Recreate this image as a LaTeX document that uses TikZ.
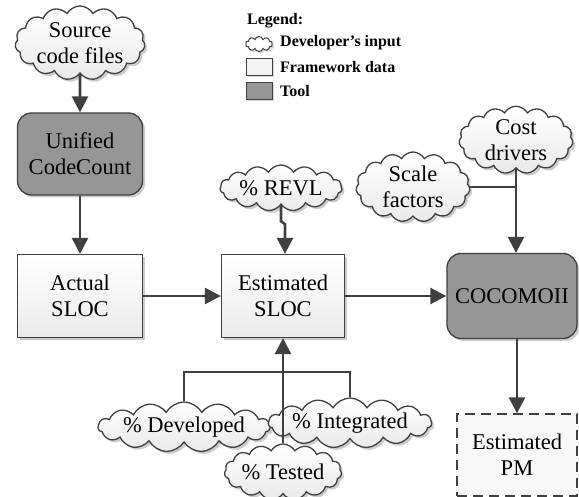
\documentclass[tikz,border=0pt]{standalone}
\usepackage{fontspec}
\setmainfont{Liberation Serif}
\usetikzlibrary{shapes.symbols,shadows,arrows.meta}
\definecolor{edge}{RGB}{64,64,64}
\definecolor{toolfill}{RGB}{150,150,150}
\definecolor{datafill}{RGB}{244,244,244}
\definecolor{cloudfill}{RGB}{246,246,246}
\tikzset{
  base/.style={draw=edge, line width=1.3pt, align=center, font=\rmfamily\fontsize{22.5}{26}\selectfont, inner sep=0pt,
    drop shadow={shadow xshift=2.5pt, shadow yshift=-2.5pt, fill=black, opacity=0.2}},
  cloudbox/.style={base, cloud, cloud puffs=15, cloud puff arc=120, cloud ignores aspect, top color=white, bottom color=cloudfill!90!gray},
  databox/.style={base, rectangle, top color=white, bottom color=datafill!92!gray},
  toolbox/.style={base, rectangle, rounded corners=14pt, fill=toolfill},
  pmbox/.style={draw=edge, line width=1.3pt, dash pattern=on 10pt off 6pt, align=center, font=\rmfamily\fontsize{22.5}{26}\selectfont, inner sep=0pt, fill=datafill!60},
  arr/.style={draw=edge, line width=2.6pt, -{Triangle[length=16pt,width=16pt]}},
  ln/.style={draw=edge, line width=2.6pt},
  legtext/.style={anchor=west, font=\rmfamily\fontsize{16}{18}\selectfont\bfseries, inner sep=0pt},
  legicon/.style={draw=edge, line width=1pt, inner sep=0pt,
    drop shadow={shadow xshift=2pt, shadow yshift=-2pt, fill=black, opacity=0.15}},
}
\begin{document}
\begin{tikzpicture}[x=1pt,y=-1pt]
\useasboundingbox (0,0) rectangle (579,497);
% nodes
\node[cloudbox, minimum width=130pt, minimum height=74pt] (src) at (80,43) {Source\\code files};
\node[toolbox, minimum width=125pt, minimum height=82pt] (ucc) at (80,154) {Unified\\CodeCount};
\node[databox, minimum width=125pt, minimum height=83pt] (act) at (80,296) {Actual\\SLOC};
\node[databox, minimum width=123pt, minimum height=83pt] (est) at (283,296) {Estimated\\SLOC};
\node[cloudbox, minimum width=122pt, minimum height=46pt] (revl) at (281,188) {\% REVL};
\node[toolbox, minimum width=130pt, minimum height=85pt] (coco) at (512,296) {COCOMOII};
\node[cloudbox, minimum width=114pt, minimum height=64pt] (cost) at (516,140) {Cost\\drivers};
\node[cloudbox, minimum width=114pt, minimum height=70pt] (scale) at (413,187) {Scale\\factors};
\node[pmbox, minimum width=120pt, minimum height=82pt] (pm) at (517,455) {Estimated\\PM};
\node[cloudbox, minimum width=162pt, minimum height=50pt] (dev) at (184,427) {\% Developed};
\node[cloudbox, minimum width=116pt, minimum height=56pt] (tst) at (283,472) {\% Tested};
\node[cloudbox, minimum width=106pt, minimum height=50pt] (int) at (350,423) {\% Integrated};
% legend
\node[legtext] (legt) at (247,21) {Legend:};
\node[legicon, cloud, cloud puffs=10, cloud ignores aspect, minimum width=27pt, minimum height=15pt, fill=white] (l1) at (259,44) {};
\node[legicon, rectangle, minimum width=26pt, minimum height=17pt, fill=datafill] (l2) at (259,67) {};
\node[legicon, rectangle, minimum width=26pt, minimum height=17pt, fill=toolfill] (l3) at (259,91) {};
\node[legtext] (t1) at (280,43) {Developer’s input};
\node[legtext] (t2) at (280,67) {Framework data};
\node[legtext] (t3) at (280,91) {Tool};
% connectors
\draw[arr] (src.south) -- (ucc.north);
\draw[arr] (ucc.south) -- (act.north);
\draw[arr] (act.east) -- (est.west);
\draw[arr] (est.east) -- (coco.west);
\draw[arr] (coco.south -| pm.north) -- (pm.north);
\draw[arr] (revl.south) -- ++(0,16) -- ++(4,3) coordinate (rj) -- (rj |- est.north);
\draw[arr] (cost.south) -- (cost.south |- coco.north);
\coordinate (sj) at (cost.south |- scale.east);
\draw[ln] (scale.east) -- (sj);
\coordinate (bj) at (dev.north |- 0,372);
\draw[ln] (dev.north) |- (int.north |- bj) -- (int.north);
\draw[arr] (tst.north) -- (est.south);
\end{tikzpicture}
\end{document}
